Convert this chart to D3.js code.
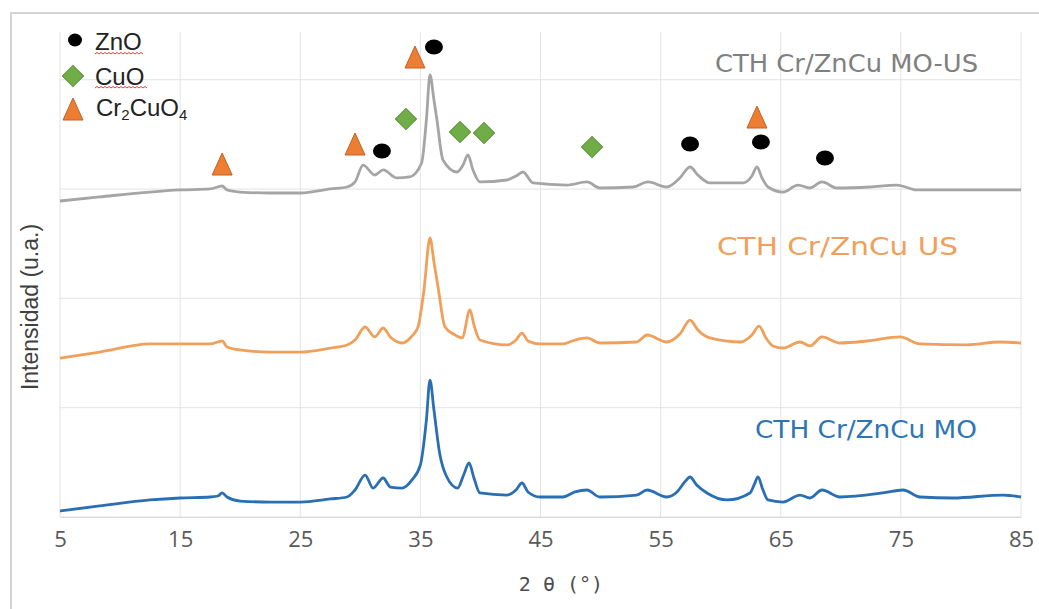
<!DOCTYPE html>
<html lang="es">
<head>
<meta charset="UTF-8">
<title>DRX CTH Cr/ZnCu</title>
<style>
  body { margin: 0; background: #fff; overflow: hidden; }
  svg { display: block; }
</style>
</head>
<body>
<svg id="chart" width="1039" height="609"></svg>
<script src="https://cdn.jsdelivr.net/npm/d3@7"></script>
<script>
// ---- data (2θ in degrees, intensity in a.u.) ----
const xTicks = [5, 15, 25, 35, 45, 55, 65, 75, 85];
const yGrid = [0, 1000, 2000, 3000, 4000];

const moData = [
  [5.0, 55], [8.3, 101], [12.5, 156], [15.0, 174], [17.5, 183], [18.15, 192], [18.5, 220], [18.9, 183],
  [20.0, 146], [22.5, 137], [25.0, 137], [27.5, 165], [28.9, 183], [29.56, 247], [30.4, 384], [31.06, 265],
  [31.9, 357], [32.5, 274], [33.5, 265], [34.3, 339], [35.0, 476], [35.5, 887], [35.8, 1253], [36.13, 979],
  [36.6, 586], [37.2, 366], [38.1, 265], [38.6, 384], [39.05, 494], [39.46, 357], [39.96, 220], [42.2, 201],
  [42.96, 247], [43.46, 311], [43.96, 229], [44.96, 183], [46.87, 183], [47.87, 229], [48.87, 247], [49.95, 183],
  [53.0, 201], [53.87, 247], [55.5, 183], [56.36, 229], [57.0, 320], [57.45, 366], [58.0, 293], [58.86, 220],
  [60.53, 156], [62.44, 220], [62.78, 293], [63.1, 366], [63.52, 247], [63.94, 156], [65.19, 137], [66.6, 201],
  [67.43, 174], [68.43, 247], [69.93, 183], [73.5, 220], [75.18, 247], [76.6, 183], [79.33, 174], [83.5, 201],
  [85.0, 183]
];

const usData = [
  [5.0, 1454], [8.3, 1509], [12.5, 1583], [15.0, 1583], [17.5, 1583], [18.5, 1610], [18.9, 1555], [20.0, 1528],
  [22.5, 1509], [25.0, 1509], [27.5, 1546], [28.9, 1574], [29.56, 1619], [30.4, 1738], [31.2, 1647], [31.9, 1729],
  [32.5, 1647], [33.5, 1592], [34.3, 1656], [34.8, 1738], [35.3, 2077], [35.8, 2553], [36.13, 2333], [36.47, 2104],
  [37.05, 1738], [37.9, 1665], [38.47, 1638], [39.13, 1894], [39.46, 1757], [39.96, 1619], [42.2, 1574],
  [42.96, 1619], [43.46, 1683], [43.96, 1610], [44.96, 1583], [46.87, 1583], [47.87, 1619], [48.87, 1638],
  [49.95, 1592], [53.0, 1601], [53.87, 1665], [55.5, 1601], [56.6, 1674], [57.45, 1802], [58.1, 1711],
  [59.1, 1638], [61.6, 1601], [62.6, 1665], [63.19, 1747], [63.77, 1638], [64.35, 1565], [65.19, 1546],
  [66.6, 1601], [67.43, 1565], [68.43, 1647], [69.93, 1592], [72.18, 1610], [74.93, 1647], [76.6, 1583],
  [80.5, 1574], [83.25, 1601], [85.0, 1592]
];

const moUsData = [
  [5.0, 2891], [8.3, 2928], [12.5, 2973], [15.0, 2992], [17.5, 3001], [18.5, 3028], [18.9, 2992], [20.0, 2973],
  [22.5, 2964], [25.0, 2964], [27.5, 3001], [28.9, 3019], [29.56, 3065], [30.23, 3220], [31.2, 3129], [31.9, 3175],
  [33.05, 3102], [34.1, 3111], [35.1, 3239], [35.5, 3632], [35.8, 4044], [36.13, 3815], [36.38, 3632], [36.88, 3266],
  [38.05, 3156], [38.55, 3220], [38.96, 3312], [39.38, 3175], [39.96, 3065], [42.2, 3083], [42.96, 3120],
  [43.54, 3156], [44.38, 3056], [47.2, 3037], [48.87, 3065], [49.95, 3010], [52.7, 3019], [53.95, 3065],
  [55.5, 3019], [56.6, 3102], [57.45, 3202], [58.1, 3129], [59.1, 3056], [61.86, 3056], [62.6, 3120],
  [63.02, 3202], [63.44, 3102], [63.94, 3019], [65.19, 2973], [66.44, 3037], [67.43, 3010], [68.43, 3065],
  [69.68, 3010], [72.4, 3019], [74.68, 3037], [76.34, 2992], [80.75, 2992], [85.0, 2992]
];

// phase markers (2θ, height of the symbol)
const znoPeaks = [[31.8, 3348], [36.13, 4300], [57.45, 3412], [63.35, 3431], [68.68, 3284]];
const cuoPeaks = [[33.8, 3641], [38.3, 3522], [40.3, 3513], [49.29, 3385]];
const cr2cuo4Peaks = [[18.5, 3220], [29.56, 3403], [34.55, 4199], [63.02, 3650]];

// ---- layout ----
const svg = d3.select("#chart");
const x = d3.scaleLinear().domain([5, 85]).range([60, 1021]);
const y = d3.scaleLinear().domain([0, 4437]).range([517, 32]);

// frame
svg.append("rect")
  .attr("x", 11).attr("y", 13).attr("width", 1040).attr("height", 610)
  .attr("fill", "none").attr("stroke", "#d4d4d4").attr("stroke-width", 2);

// gridlines
const grid = svg.append("g").attr("stroke", "#e3e3e3").attr("stroke-width", 1);
grid.selectAll("line.v").data(xTicks).join("line")
  .attr("class", "v")
  .attr("x1", d => x(d)).attr("x2", d => x(d))
  .attr("y1", y.range()[1]).attr("y2", y(0));
grid.selectAll("line.h").data(yGrid).join("line")
  .attr("class", "h")
  .attr("x1", x(5)).attr("x2", x(85))
  .attr("y1", d => y(d)).attr("y2", d => y(d));

// x axis
const xAxis = svg.append("g")
  .attr("transform", `translate(0,${y(0)})`)
  .call(d3.axisBottom(x).tickValues(xTicks).tickSize(0).tickPadding(14).tickFormat(d3.format("d")));
xAxis.select(".domain").attr("stroke", "#dadada");
xAxis.selectAll("text")
  .attr("font-family", "'Open Sans', sans-serif")
  .attr("font-size", 22)
  .attr("fill", "#595959");

svg.append("text")
  .attr("x", 561).attr("y", 591)
  .attr("text-anchor", "middle")
  .attr("font-family", "'DejaVu Sans Mono', monospace")
  .attr("font-size", 20)
  .attr("fill", "#4d4d4d")
  .text("2 θ (°)");

svg.append("text")
  .attr("transform", "translate(38,307) rotate(-90)")
  .attr("text-anchor", "middle")
  .attr("font-family", "'Liberation Sans', Arial, sans-serif")
  .attr("font-size", 23)
  .attr("fill", "#404040")
  .text("Intensidad (u.a.)");

// diffractograms
const line = d3.line().curve(d3.curveMonotoneX).x(d => x(d[0])).y(d => y(d[1]));
const series = [
  { name: "CTH Cr/ZnCu MO", data: moData, color: "#2a6fb3", label: "#2e75b6", lx: 755, lx2: 977, ly: 438 },
  { name: "CTH Cr/ZnCu US", data: usData, color: "#f0a05a", label: "#f0a05a", lx: 717, lx2: 958, ly: 255 },
  { name: "CTH Cr/ZnCu MO-US", data: moUsData, color: "#a5a5a5", label: "#808080", lx: 715, lx2: 978, ly: 72 }
];

svg.append("g").selectAll("path").data(series).join("path")
  .attr("d", d => line(d.data))
  .attr("fill", "none")
  .attr("stroke", d => d.color)
  .attr("stroke-width", 2.8)
  .attr("stroke-linejoin", "round");

svg.append("g").selectAll("text").data(series).join("text")
  .attr("x", d => d.lx).attr("y", d => d.ly)
  .attr("textLength", d => d.lx2 - d.lx)
  .attr("lengthAdjust", "spacingAndGlyphs")
  .attr("font-family", "'DejaVu Sans', Verdana, sans-serif")
  .attr("font-size", 24)
  .attr("fill", d => d.label)
  .text(d => d.name);

// symbols
function drawZnO(sel) {
  sel.append("ellipse").attr("rx", 9).attr("ry", 7.5).attr("fill", "#000");
}
function drawCuO(sel) {
  sel.append("rect").attr("x", -7.5).attr("y", -7.5).attr("width", 15).attr("height", 15)
    .attr("transform", "rotate(45)")
    .attr("fill", "#70ad47").attr("stroke", "#5a8f38").attr("stroke-width", 1);
}
function drawCr(sel) {
  sel.append("path").attr("d", "M0,-12L10,10L-10,10Z")
    .attr("fill", "#ed7d31").attr("stroke", "#c0622a").attr("stroke-width", 1);
}

const marks = svg.append("g");
marks.selectAll("g.zno").data(znoPeaks).join("g")
  .attr("class", "zno")
  .attr("transform", d => `translate(${x(d[0])},${y(d[1])})`)
  .call(drawZnO);
marks.selectAll("g.cuo").data(cuoPeaks).join("g")
  .attr("class", "cuo")
  .attr("transform", d => `translate(${x(d[0])},${y(d[1])})`)
  .call(drawCuO);
marks.selectAll("g.cr").data(cr2cuo4Peaks).join("g")
  .attr("class", "cr")
  .attr("transform", d => `translate(${x(d[0])},${y(d[1])})`)
  .call(drawCr);

// legend
const legend = svg.append("g")
  .attr("font-family", "'Liberation Sans', Arial, sans-serif")
  .attr("font-size", 24)
  .attr("fill", "#222");

legend.append("g").attr("transform", "translate(75,40)")
  .call(s => s.append("ellipse").attr("rx", 7).attr("ry", 6.5).attr("fill", "#000"));
legend.append("g").attr("transform", "translate(73,76)").call(drawCuO);
legend.append("g").attr("transform", "translate(73,110)").call(drawCr);

legend.append("text").attr("x", 95).attr("y", 50).text("ZnO");
legend.append("text").attr("x", 95).attr("y", 85).text("CuO");
const crText = legend.append("text").attr("x", 96).attr("y", 116);
crText.append("tspan").text("Cr");
crText.append("tspan").attr("font-size", 15).attr("dy", 4).text("2");
crText.append("tspan").attr("dy", -4).text("CuO");
crText.append("tspan").attr("font-size", 15).attr("dy", 4).text("4");

// spell-check squiggles under ZnO and CuO
function squiggle(x0, x1, yy) {
  const p = d3.path();
  p.moveTo(x0, yy);
  let up = true;
  for (let xx = x0 + 2; xx <= x1; xx += 2) {
    p.lineTo(xx, up ? yy - 1.5 : yy);
    up = !up;
  }
  return p.toString();
}
legend.append("path").attr("d", squiggle(95, 143, 54)).attr("fill", "none").attr("stroke", "#d9413a").attr("stroke-width", 1);
legend.append("path").attr("d", squiggle(95, 147, 88)).attr("fill", "none").attr("stroke", "#d9413a").attr("stroke-width", 1);
</script>
</body>
</html>
